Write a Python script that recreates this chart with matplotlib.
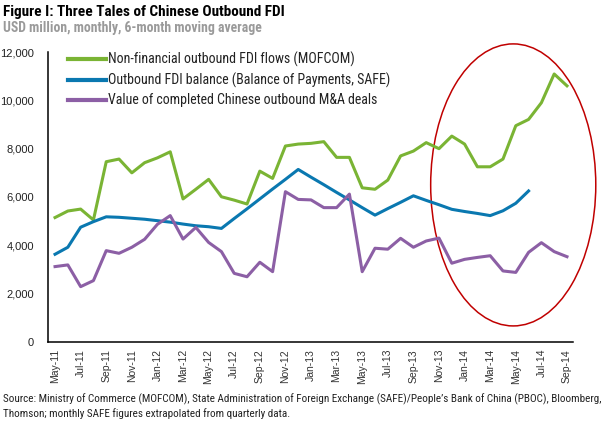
import matplotlib
matplotlib.use("Agg")
import matplotlib.pyplot as plt
from matplotlib.patches import Ellipse
from matplotlib import font_manager

months = ["May-11","Jun-11","Jul-11","Aug-11","Sep-11","Oct-11","Nov-11","Dec-11",
          "Jan-12","Feb-12","Mar-12","Apr-12","May-12","Jun-12","Jul-12","Aug-12",
          "Sep-12","Oct-12","Nov-12","Dec-12","Jan-13","Feb-13","Mar-13","Apr-13",
          "May-13","Jun-13","Jul-13","Aug-13","Sep-13","Oct-13","Nov-13","Dec-13",
          "Jan-14","Feb-14","Mar-14","Apr-14","May-14","Jun-14","Jul-14","Aug-14","Sep-14"]

mofcom = [5150, 5420, 5500, 5050, 7460, 7570, 7000, 7420, 7620, 7870,
          5920, 6320, 6730, 6010, 5870, 5710, 7070, 6770, 8110, 8190,
          8220, 8290, 7640, 7640, 6380, 6320, 6700, 7700, 7900, 8250,
          8000, 8520, 8190, 7250, 7250, 7570, 8950, 9210, 9900, 11090, 10600]

safe = [3630, 3920, 4750, 4980, 5180, 5160, 5120, 5080, 5020, 4960,
        4880, 4810, 4770, 4700, 5110, 5510, 5920, 6330, 6730, 7140,
        6820, 6510, 6190, 5880, 5560, 5250, 5520, 5780, 6050, 5860,
        5680, 5490, 5400, 5320, 5230, 5430, 5740, 6250]

mna = [3120, 3190, 2290, 2540, 3780, 3670, 3920, 4250, 4870, 5230,
       4260, 4740, 4120, 3740, 2840, 2700, 3300, 2910, 6220, 5900,
       5880, 5560, 5560, 6120, 2910, 3880, 3840, 4290, 3920, 4180,
       4300, 3260, 3420, 3500, 3570, 2940, 2880, 3710, 4110, 3740, 3530]

series_labels = ["Non-financial outbound FDI flows (MOFCOM)",
                 "Outbound FDI balance (Balance of Payments, SAFE)",
                 "Value of completed Chinese outbound M&A deals"]
yticks = [0, 2000, 4000, 6000, 8000, 10000, 12000]

installed = {f.name for f in font_manager.fontManager.ttflist}
cands = ['Liberation Sans Narrow', 'Roboto Condensed', 'Arial Narrow', 'Open Sans Condensed', 'Roboto']
narrow_name = next((c for c in cands if c in installed), 'Liberation Sans')
narrow = [narrow_name, 'DejaVu Sans']
regular = ['Liberation Sans', 'DejaVu Sans']

W, H = 607, 425
fig = plt.figure(figsize=(W/100, H/100), dpi=100)
ax = fig.add_axes([48/W, 83/H, (573-48)/W, (342-52)/H])

x_all = list(range(len(months)))
ax.plot(x_all, mofcom, color="#7ab434", lw=2.2, label=series_labels[0])
ax.plot(list(range(len(safe))), safe, color="#0a78b0", lw=2.2, label=series_labels[1])
ax.plot(x_all, mna, color="#8c5fa5", lw=2.2, label=series_labels[2])

ax.set_xlim(-0.55, 40.47)
ax.set_ylim(0, 12000)
ax.set_yticks(yticks)
ax.set_yticklabels([f"{v:,}" for v in yticks], family=regular, fontsize=8, color="#222222")
ax.set_xticks(x_all[::2])
ax.set_xticklabels(months[::2], rotation=90, family=regular, fontsize=7.5, color="#333333")
ax.tick_params(axis='y', length=0, pad=10)
ax.tick_params(axis='x', length=0, pad=5)
for s in ["top", "right"]:
    ax.spines[s].set_visible(False)
for s in ["left", "bottom"]:
    ax.spines[s].set_linewidth(1.1)
    ax.spines[s].set_color("black")

leg = ax.legend(loc="upper left", bbox_to_anchor=(0.02, 1.035), frameon=False,
                handlelength=2.75, handletextpad=0.1, labelspacing=0.4,
                borderaxespad=0.3, prop={'family': narrow, 'size': 10.0})
for t in leg.get_texts():
    t.set_color("#222222")
for l in leg.get_lines():
    l.set_linewidth(3.0)

ell = Ellipse((35.8, 6500), width=12.9, height=11670, fill=False,
              edgecolor="#c00000", lw=1.1, clip_on=False)
ax.add_patch(ell)

t1 = fig.text(3/W, 1 - 12/H, "Figure I: Three Tales of Chinese Outbound FDI", family=narrow,
              fontweight="bold", fontsize=12.5, va="center", ha="left", color="black")
t2 = fig.text(3/W, 1 - 28/H, "USD million, monthly, 6-month moving average", family=narrow,
              fontweight="bold", fontsize=10, va="center", ha="left", color="#9a9a9a")
t3 = fig.text(3/W, 1 - 399/H, "Source: Ministry of Commerce (MOFCOM), State Administration of Foreign Exchange (SAFE)/People\u2019s Bank of China (PBOC), Bloomberg,",
              family=narrow, fontsize=8, va="center", ha="left", color="#222222")
t4 = fig.text(3/W, 1 - 414/H, "Thomson; monthly SAFE figures extrapolated from quarterly data.",
              family=narrow, fontsize=8, va="center", ha="left", color="#222222")

# fit text widths to the reference's pixel widths
fig.canvas.draw()
r = fig.canvas.get_renderer()
def fit(t, target):
    w = t.get_window_extent(r).width
    t.set_fontsize(t.get_fontsize() * target / w)
fit(t1, 282)
fit(t2, 259)
fit(t3, 600)
t4.set_fontsize(t3.get_fontsize())

fig.savefig("out.png", dpi=100)
